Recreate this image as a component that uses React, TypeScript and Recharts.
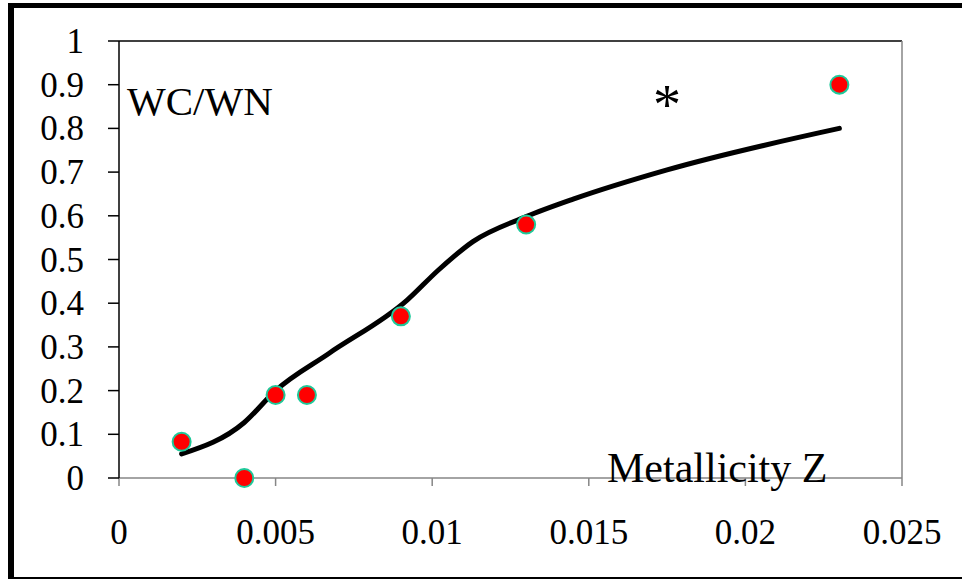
import React from "react"
import {
  ComposedChart,
  Line,
  Scatter,
  XAxis,
  YAxis,
  ReferenceLine,
} from "recharts"

// observed WC/WN ratios against metallicity
const obsZ = [0.002, 0.004, 0.005, 0.006, 0.009, 0.013, 0.023]
const obsRatio = [0.083, 0, 0.19, 0.19, 0.37, 0.58, 0.9]

// model curve
const modelZ = [0.002, 0.004, 0.005, 0.0067, 0.0092, 0.0102, 0.0113, 0.013, 0.0145, 0.0175, 0.023]
const modelRatio = [0.055, 0.127, 0.2, 0.285, 0.407, 0.476, 0.541, 0.598, 0.638, 0.705, 0.8]

const xTicks = [0, 0.005, 0.01, 0.015, 0.02, 0.025]
const xTickLabels = ["0", "0.005", "0.01", "0.015", "0.02", "0.025"]
const yTicks = [0, 0.1, 0.2, 0.3, 0.4, 0.5, 0.6, 0.7, 0.8, 0.9, 1]
const yTickLabels = ["0", "0.1", "0.2", "0.3", "0.4", "0.5", "0.6", "0.7", "0.8", "0.9", "1"]

const observed = obsZ.map((z, i) => ({ z, r: obsRatio[i] }))
const model = modelZ.map((z, i) => ({ z, r: modelRatio[i] }))

const serif = "'Liberation Serif', 'Times New Roman', serif"

const XTick = (p: any) => (
  <text x={p.x} y={p.y} dy={25} textAnchor="middle" fontSize={35} fontFamily={serif} fill="#000">
    {xTickLabels[xTicks.indexOf(p.payload.value)] ?? String(p.payload.value)}
  </text>
)

const YTick = (p: any) => (
  <text x={p.x} y={p.y} dy={12} textAnchor="end" fontSize={35} fontFamily={serif} fill="#000">
    {yTickLabels[yTicks.indexOf(p.payload.value)] ?? String(p.payload.value)}
  </text>
)

export default function App() {
  return (
    <div
      style={{
        position: "absolute",
        left: 0,
        top: 0,
        width: 962,
        height: 580,
        background: "#fff",
        fontFamily: serif,
      }}
    >
      <ComposedChart
        width={962}
        height={580}
        margin={{ top: 41, right: 60, bottom: 0, left: 0 }}
      >
        <XAxis
          dataKey="z"
          type="number"
          domain={[0, 0.025]}
          ticks={xTicks}
          interval={0}
          height={102}
          stroke="#868686"
          strokeWidth={1.5}
          tickSize={8}
          tickMargin={33}
          tick={XTick}
        />
        <YAxis
          dataKey="r"
          type="number"
          domain={[0, 1]}
          ticks={yTicks}
          interval={0}
          width={119}
          stroke="#000"
          strokeWidth={1.5}
          tickSize={11}
          tickMargin={24}
          tick={YTick}
        />
        <ReferenceLine y={1} stroke="#000" strokeWidth={1.5} />
        <ReferenceLine x={0.025} stroke="#868686" strokeWidth={1.5} />
        <Line
          data={model}
          dataKey="r"
          type="monotone"
          stroke="#000"
          strokeWidth={5}
          strokeLinecap="round"
          dot={false}
          activeDot={false}
          isAnimationActive={false}
        />
        <Scatter
          data={observed}
          dataKey="r"
          fill="#ff0000"
          shape={(p: any) => (
            <circle cx={p.cx} cy={p.cy} r={9} fill="#ff0000" stroke="#1ec99a" strokeWidth={2} />
          )}
          isAnimationActive={false}
        />
      </ComposedChart>
      <svg
        width={962}
        height={580}
        style={{ position: "absolute", left: 0, top: 0, pointerEvents: "none" }}
      >
        <text x={127} y={115} fontSize={41} fontFamily={serif} fill="#000">WC/WN</text>
        <text x={653} y={124} fontSize={56} fontFamily={serif} fill="#000">*</text>
        <text x={607} y={482} fontSize={42} fontFamily={serif} fill="#000">Metallicity Z</text>
      </svg>
      <div style={{ position: "absolute", left: 8, top: 3, width: 954, height: 5, background: "#000" }} />
      <div style={{ position: "absolute", left: 8, top: 3, width: 6, height: 576, background: "#000" }} />
      <div style={{ position: "absolute", left: 8, top: 577, width: 954, height: 2, background: "#000" }} />
    </div>
  )
}
